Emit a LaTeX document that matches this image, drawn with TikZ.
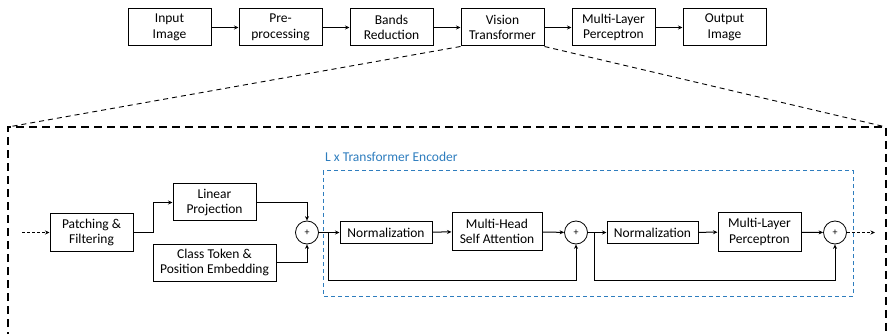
\documentclass[tikz,border=0pt]{standalone}
\usepackage{fontspec}
\setmainfont{Carlito}
\usetikzlibrary{arrows.meta,calc}
\definecolor{encblue}{RGB}{46,125,190}
\begin{document}
\begin{tikzpicture}[x=1pt,y=-1pt,
  font=\fontsize{13.5}{15.5}\selectfont,
  box/.style={draw,line width=1pt,align=center,inner sep=1pt,minimum height=37pt},
  flow/.style={line width=1pt,-{Stealth[length=4.5pt,width=4pt]}},
  sumnode/.style={draw,circle,line width=0.8pt,minimum size=23pt,inner sep=0pt,font=\fontsize{10}{10}\selectfont},
  zoomline/.style={line width=0.9pt,dash pattern=on 5pt off 4pt},
  framebox/.style={line width=1.4pt,dash pattern=on 8pt off 5pt},
  encframe/.style={draw=encblue,line width=1pt,dash pattern=on 4pt off 3pt}]
\useasboundingbox (0,0) rectangle (887,334);

% top pipeline
\node[box,minimum width=83pt] (inimg) at (169.5,27.5) {Input\\Image};
\node[box,minimum width=83pt] (prep)  at (280.5,27.5) {Pre-\\processing};
\node[box,minimum width=83pt] (bands) at (391.5,27.5) {Bands\\Reduction};
\node[box,minimum width=83pt] (vit)   at (502.5,27.5) {Vision\\Transformer};
\node[box,minimum width=83pt] (mlp)   at (613.5,27.5) {Multi-Layer\\Perceptron};
\node[box,minimum width=83pt] (outimg) at (724.5,27.5) {Output\\Image};
\draw[flow] (inimg) -- (prep);
\draw[flow] (prep) -- (bands);
\draw[flow] (bands) -- (vit);
\draw[flow] (vit) -- (mlp);
\draw[flow] (mlp) -- (outimg);

% expanded view of the vision transformer
\coordinate (fTL) at (8,127);
\coordinate (fTR) at (886,127);
\coordinate (fBL) at (8,340);
\coordinate (fBR) at (886,340);
\draw[zoomline] (vit.south west) -- (fTL);
\draw[zoomline] (vit.south east) -- (fTR);
\draw[framebox] (fBL) -- (fTL) -- (fTR) -- (fBR);

% transformer encoder block
\draw[encframe] (323,171) rectangle (853,296);
\node[anchor=base west,text=encblue,inner sep=0pt] (enclabel) at (325,162) {L x Transformer Encoder};

% embedding stage
\coordinate (vin) at (22,232.5);
\node[box,minimum width=83pt,minimum height=38pt] (patch) at (91.5,232.5) {Patching \&\\Filtering};
\node[box,minimum width=83pt] (linproj) at (214.5,202.5) {Linear\\Projection};
\node[box,minimum width=123pt] (cls) at (214.5,262.5) {Class Token \&\\Position Embedding};
\node[sumnode] (sum1) at (307,232.5) {+};

\draw[flow,dash pattern=on 3pt off 2pt,line width=0.8pt] (vin) -- (patch);
\draw[flow] (patch.east) -- ++(20,0) |- (linproj.west);
\draw[flow] (linproj.east) -| (sum1.north);
\draw[flow] (cls.east) -| (sum1.south);

% attention sub-block
\node[box,minimum width=92pt,minimum height=21pt] (norm1) at (386,232.5) {Normalization};
\node[box,minimum width=90pt] (mhsa) at (497,231.5) {Multi-Head\\Self Attention};
\node[sumnode] (sum2) at (576,232.5) {+};
\coordinate (br1) at (328,232.5);
\draw[flow] (sum1.east) -- (norm1.west);
\draw[flow] (norm1) -- (mhsa);
\draw[flow] (mhsa) -- (sum2);
\draw[flow] (br1) -- ++(0,47.5) -| (sum2.south);

% feed-forward sub-block
\node[box,minimum width=91pt,minimum height=21pt] (norm2) at (652.5,232.5) {Normalization};
\node[box,minimum width=83pt,minimum height=38pt] (mlp2) at (759.5,232) {Multi-Layer\\Perceptron};
\node[sumnode] (sum3) at (835,232.5) {+};
\coordinate (br2) at (594,232.5);
\coordinate (vout) at (875,232.5);
\draw[flow] (sum2.east) -- (norm2.west);
\draw[flow] (norm2) -- (mlp2);
\draw[flow] (mlp2) -- (sum3);
\draw[flow] (br2) -- ++(0,47.5) -| (sum3.south);
\draw[flow,dash pattern=on 3pt off 2pt,line width=0.8pt] (sum3) -- (vout);
\end{tikzpicture}
\end{document}
